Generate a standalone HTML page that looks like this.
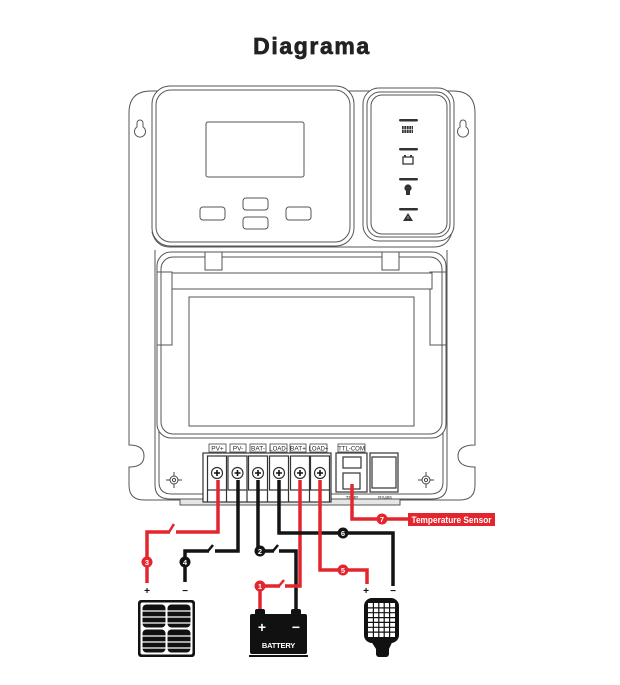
<!DOCTYPE html>
<html><head><meta charset="utf-8"><style>
html,body{margin:0;padding:0;background:#fff;}
svg{display:block;}
text{font-family:"Liberation Sans",Arial,sans-serif;}
</style></head><body>
<svg width="620" height="685" viewBox="0 0 620 685" xmlns="http://www.w3.org/2000/svg">
<rect width="620" height="685" fill="#fff"/>
<!-- Title -->
<text x="312" y="54" text-anchor="middle" font-size="23" font-weight="bold" letter-spacing="1.6" fill="#222" stroke="#222" stroke-width="0.7">Diagrama</text>

<g fill="#fff" stroke="#555" stroke-width="1">
<!-- mounting plate -->
<path d="M151 91 H453 Q475 91 475 113 V445 Q458 445 458 456 Q458 467 475 467 V485 Q475 500 460 500 H144 Q129 500 129 485 V467 Q144 467 144 456 Q144 445 129 445 V113 Q129 91 151 91 Z"/>
<!-- keyholes -->
<path d="M137 123 A3 3 0 0 1 143 123 V127 A5.5 5.5 0 1 1 137 127 Z"/>
<path d="M460 123 A3 3 0 0 1 466 123 V127 A5.5 5.5 0 1 1 460 127 Z"/>
<!-- lower housing -->
<path d="M155 250 V485 Q155 499 170 499 H432 Q447 499 447 485 V250"/>
<path d="M159 345 V482 Q159 494 172 494 H430 Q443 494 443 482 V345" fill="none"/>
<!-- transition lines -->
<path d="M152 232 Q156 247 170 247 H434 Q448 247 452 232" fill="none"/>
<!-- display panel -->
<rect x="152" y="86" width="202" height="160" rx="18"/>
<rect x="156" y="90" width="194" height="152" rx="15"/>
<rect x="206" y="122" width="98" height="55" rx="2"/>
<rect x="200" y="207" width="25" height="13" rx="3"/>
<rect x="243" y="198" width="25" height="12" rx="3"/>
<rect x="243" y="217" width="25" height="12" rx="3"/>
<rect x="286" y="207" width="25" height="13" rx="3"/>
<!-- LED panel -->
<rect x="363" y="88" width="91" height="153" rx="16"/>
<rect x="367" y="92" width="83" height="145" rx="13"/>
<rect x="371" y="95" width="76" height="139" rx="11"/>
<!-- lid -->
<rect x="157" y="252" width="289" height="186" rx="14"/>
<rect x="161" y="257" width="281" height="177" rx="12"/>
<rect x="205" y="252" width="17" height="18"/>
<rect x="382" y="252" width="17" height="18"/>
<rect x="157" y="272" width="15" height="73"/>
<rect x="430" y="272" width="16" height="73"/>
<line x1="161" y1="272" x2="161" y2="345"/>
<line x1="442" y1="272" x2="442" y2="345"/>
<rect x="172" y="273" width="260" height="16"/>
<rect x="189" y="297" width="225" height="129"/>
<!-- base plate under terminals -->
<rect x="180" y="499" width="220" height="6" fill="#e6e6e6"/>
</g>

<!-- LED bars & icons -->
<g fill="#333">
<rect x="399" y="119" width="19" height="2.5" rx="1.2"/>
<rect x="399" y="148" width="19" height="2.5" rx="1.2"/>
<rect x="399" y="178" width="19" height="2.5" rx="1.2"/>
<rect x="399" y="208" width="19" height="2.5" rx="1.2"/>
<rect x="402" y="126" width="11" height="7"/>
<path d="M403 157 h10 v7 h-10z" fill="#fff" stroke="#333" stroke-width="1.3"/>
<rect x="404" y="155" width="2" height="2"/><rect x="410" y="155" width="2" height="2"/>
<circle cx="408" cy="188" r="3.6"/><rect x="406" y="190" width="4" height="5"/>
<path d="M408 213 L413 221 H403 Z"/>
</g>
<g stroke="#fff" stroke-width="0.6">
<line x1="404" y1="126" x2="404" y2="133"/><line x1="406.5" y1="126" x2="406.5" y2="133"/><line x1="409" y1="126" x2="409" y2="133"/><line x1="411.5" y1="126" x2="411.5" y2="133"/>
<line x1="402" y1="129.5" x2="413" y2="129.5"/>
<line x1="408" y1="216" x2="408" y2="219"/>
</g>

<!-- mount screws -->
<g stroke="#444" stroke-width="1" fill="#fff">
<circle cx="174" cy="480" r="4"/><circle cx="174" cy="480" r="1.6"/>
<line x1="166" y1="480" x2="170" y2="480"/><line x1="178" y1="480" x2="182" y2="480"/><line x1="174" y1="472" x2="174" y2="476"/><line x1="174" y1="484" x2="174" y2="488"/>
<circle cx="426" cy="480" r="4"/><circle cx="426" cy="480" r="1.6"/>
<line x1="418" y1="480" x2="422" y2="480"/><line x1="430" y1="480" x2="434" y2="480"/><line x1="426" y1="472" x2="426" y2="476"/><line x1="426" y1="484" x2="426" y2="488"/>
</g>

<!-- terminal labels -->
<g fill="#fff" stroke="#444" stroke-width="0.8">
<rect x="209" y="444" width="17" height="8"/>
<rect x="230" y="444" width="16" height="8"/>
<rect x="250" y="444" width="16" height="8"/>
<rect x="270" y="444" width="17" height="8"/>
<rect x="290" y="444" width="16" height="8"/>
<rect x="310" y="444" width="17" height="8"/>
<rect x="338" y="444" width="27" height="8"/>
</g>
<g font-size="6.5" fill="#222" text-anchor="middle">
<text x="217.5" y="450.5">PV+</text>
<text x="238" y="450.5">PV-</text>
<text x="258" y="450.5">BAT-</text>
<text x="278.5" y="450.5" font-size="6">LOAD-</text>
<text x="298" y="450.5">BAT+</text>
<text x="318.5" y="450.5" font-size="6">LOAD+</text>
<text x="351.5" y="450.5" font-size="6">TTL-COM</text>
</g>

<!-- terminal block -->
<g fill="#fff" stroke="#333" stroke-width="1.2">
<rect x="203" y="453" width="128" height="49"/>
<rect x="207.5" y="456" width="19" height="34"/>
<rect x="228" y="456" width="19" height="34"/>
<rect x="248.5" y="456" width="19" height="34"/>
<rect x="269.5" y="456" width="19" height="34"/>
<rect x="290.5" y="456" width="19" height="34"/>
<rect x="310.5" y="456" width="19" height="34"/>
<line x1="207.5" y1="490" x2="207.5" y2="502"/><line x1="226.5" y1="490" x2="226.5" y2="502"/>
<line x1="247" y1="490" x2="247" y2="502"/><line x1="267.5" y1="490" x2="267.5" y2="502"/>
<line x1="288.5" y1="490" x2="288.5" y2="502"/><line x1="309.5" y1="490" x2="309.5" y2="502"/>
<line x1="329.5" y1="490" x2="329.5" y2="502"/>
<circle cx="217" cy="473" r="5.5"/><circle cx="237.5" cy="473" r="5.5"/><circle cx="258" cy="473" r="5.5"/>
<circle cx="279" cy="473" r="5.5"/><circle cx="300" cy="473" r="5.5"/><circle cx="320" cy="473" r="5.5"/>
<!-- TTL / RS485 -->
<rect x="336" y="453" width="31" height="39"/>
<rect x="343" y="457" width="18" height="11"/>
<rect x="343" y="473" width="17" height="16"/>
<rect x="370" y="453" width="28" height="39"/>
<rect x="372" y="457" width="24" height="31"/>
</g>
<g stroke="#111" stroke-width="1.6">
<path d="M214 473h6M217 470v6"/><path d="M234.5 473h6M237.5 470v6"/><path d="M255 473h6M258 470v6"/>
<path d="M276 473h6M279 470v6"/><path d="M297 473h6M300 470v6"/><path d="M317 473h6M320 470v6"/>
</g>
<g font-size="4.5" fill="#333" text-anchor="middle">
<text x="352" y="499">TEMP</text>
<text x="385" y="499">RS485</text>
</g>

<!-- wires -->
<g fill="none" stroke-width="3.5" stroke-linejoin="miter" stroke-linecap="butt">
<path d="M218 480 V532 H176" stroke="#e3262d"/>
<path d="M170 532 H147 V583" stroke="#e3262d"/>
<path d="M169 532 L174 524" stroke="#e3262d" stroke-width="2.5"/>
<path d="M238 480 V551 H215" stroke="#141414"/>
<path d="M209 551 H185 V582" stroke="#141414"/>
<path d="M208 551 L213 545" stroke="#141414" stroke-width="2.5"/>
<path d="M258 480 V551 H274" stroke="#141414"/>
<path d="M279 551 H296 V613" stroke="#141414"/>
<path d="M273 551 L278 545" stroke="#141414" stroke-width="2.5"/>
<path d="M300 480 V586 H285" stroke="#e3262d"/>
<path d="M280 586 H260 V609" stroke="#e3262d"/>
<path d="M279 586 L284 580" stroke="#e3262d" stroke-width="2.5"/>
<path d="M279 480 V533 H393 V586" stroke="#141414"/>
<path d="M320 480 V570 H367 V584" stroke="#e3262d"/>
<path d="M352 484 V519 H409" stroke="#e3262d"/>
</g>

<!-- number circles -->
<g font-size="7.5" font-weight="bold" fill="#fff" text-anchor="middle">
<circle cx="147" cy="562" r="5.5" fill="#e3262d"/><text x="147" y="565">3</text>
<circle cx="185" cy="562" r="5.5" fill="#141414"/><text x="185" y="565">4</text>
<circle cx="260" cy="551" r="5.5" fill="#141414"/><text x="260" y="554">2</text>
<circle cx="260" cy="586" r="5.5" fill="#e3262d"/><text x="260" y="589">1</text>
<circle cx="343" cy="533" r="5.5" fill="#141414"/><text x="343" y="536">6</text>
<circle cx="343" cy="570" r="5.5" fill="#e3262d"/><text x="343" y="573">5</text>
<circle cx="382" cy="519" r="5.5" fill="#e3262d"/><text x="382" y="522">7</text>
</g>
<rect x="408" y="513" width="87" height="13" fill="#e3262d"/>
<text x="451.5" y="523" text-anchor="middle" font-size="9.5" font-weight="bold" fill="#fff" textLength="80" lengthAdjust="spacingAndGlyphs">Temperature Sensor</text>

<!-- +/- signs -->
<g fill="#111" font-weight="bold" text-anchor="middle">
<text x="147" y="594" font-size="10">+</text>
<text x="185" y="594" font-size="10">−</text>
<text x="366" y="594" font-size="10">+</text>
<text x="393" y="594" font-size="10">−</text>
</g>

<!-- solar panel -->
<rect x="138" y="600" width="57" height="57" rx="3" fill="#111"/>
<rect x="140.5" y="602.5" width="52" height="52" rx="2" fill="#fff"/>
<g fill="#111">
<rect x="142.5" y="604.5" width="23" height="23" rx="4"/>
<rect x="167.5" y="604.5" width="23" height="23" rx="4"/>
<rect x="142.5" y="629.5" width="23" height="23" rx="4"/>
<rect x="167.5" y="629.5" width="23" height="23" rx="4"/>
</g>
<g stroke="#fff" stroke-width="1.3">
<line x1="142" y1="611" x2="191" y2="611"/><line x1="142" y1="617" x2="191" y2="617"/><line x1="142" y1="623" x2="191" y2="623"/>
<line x1="142" y1="636" x2="191" y2="636"/><line x1="142" y1="642" x2="191" y2="642"/><line x1="142" y1="648" x2="191" y2="648"/>
</g>

<!-- battery -->
<path d="M255 615 V611 Q255 609 257 609 H263 Q265 609 265 611 V615 Z" fill="#111"/>
<path d="M291 615 V611 Q291 609 293 609 H299 Q301 609 301 611 V615 Z" fill="#111"/>
<rect x="250" y="614" width="57" height="40" rx="2" fill="#111"/>
<rect x="249" y="655" width="59" height="2" fill="#111"/>
<g fill="#fff" font-weight="bold" text-anchor="middle">
<text x="262" y="632" font-size="14">+</text>
<text x="296" y="632" font-size="14">−</text>
<text x="278.5" y="648" font-size="7.5" letter-spacing="-0.2">BATTERY</text>
</g>

<!-- lamp -->
<rect x="364" y="598" width="35" height="45" rx="8" fill="#111"/>
<path d="M369 638 H394 L389 649 H376 Z" fill="#111"/>
<rect x="376" y="645" width="13" height="12" rx="3" fill="#111"/>
<rect x="368" y="603" width="27" height="34" fill="#fff"/>
<g stroke="#111" stroke-width="1.2">
<line x1="373.4" y1="603" x2="373.4" y2="637"/><line x1="378.8" y1="603" x2="378.8" y2="637"/><line x1="384.2" y1="603" x2="384.2" y2="637"/><line x1="389.6" y1="603" x2="389.6" y2="637"/>
<line x1="368" y1="607.9" x2="395" y2="607.9"/><line x1="368" y1="612.7" x2="395" y2="612.7"/><line x1="368" y1="617.6" x2="395" y2="617.6"/><line x1="368" y1="622.4" x2="395" y2="622.4"/><line x1="368" y1="627.3" x2="395" y2="627.3"/><line x1="368" y1="632.1" x2="395" y2="632.1"/>
</g>
</svg>
</body></html>
